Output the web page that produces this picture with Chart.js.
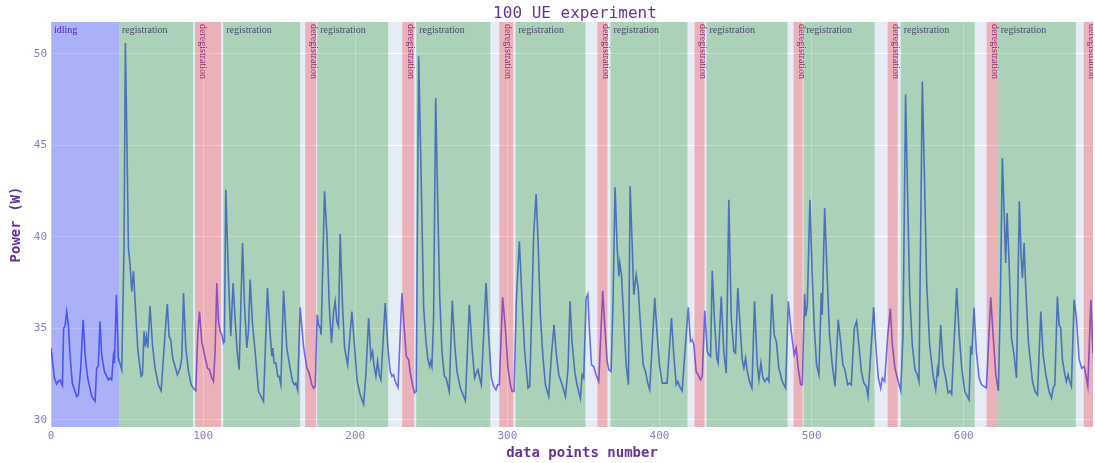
<!DOCTYPE html>
<html>
<head>
<meta charset="utf-8">
<title>100 UE experiment</title>
<script src="https://cdn.jsdelivr.net/npm/chart.js@4/dist/chart.umd.min.js"></script>
<style>
  html, body { margin: 0; padding: 0; background: #fff; }
  #wrap { width: 1095px; height: 463px; }
</style>
</head>
<body>
<div id="wrap"><canvas id="power" width="1095" height="463"></canvas></div>
<script>
// sample index of each turning point of the power trace
const samples = [
  0, 2.2, 3.7, 4.8, 5.9, 7.5, 8.3, 9.2, 10.3, 11.4, 12.5, 14.0, 16.9, 18.0, 19.5, 21.1, 22.4, 24.1, 26.8, 29.0,
  30.0, 31.1, 32.2, 33.3, 35.1, 37.7, 38.8, 39.9, 41.0, 41.7, 43.0, 44.3, 46.5, 48.0, 48.9, 50.0, 50.9, 52.0, 53.1, 54.2,
  55.3, 57.0, 59.2, 60.1, 61.2, 61.8, 62.7, 63.6, 65.1, 66.7, 68.4, 70.6, 72.4, 73.9, 75.4, 76.5, 77.6, 78.7, 80.0, 83.1,
  84.9, 86.0, 87.1, 88.6, 90.4, 92.1, 94.3, 95.2, 96.5, 97.6, 99.1, 100.9, 102.9, 104.2, 105.7, 106.8, 107.9, 109.0, 110.1, 111.2,
  112.3, 113.4, 114.0, 114.9, 116.2, 117.1, 118.2, 119.7, 121.1, 122.4, 123.7, 125.9, 127.2, 128.7, 129.8, 130.9, 132.5, 134.2, 136.4, 139.7,
  142.3, 144.1, 145.2, 145.8, 146.7, 147.8, 149.1, 150.0, 151.1, 152.9, 155.0, 156.8, 158.8, 160.1, 161.0, 162.1, 163.8, 166.0, 168.2, 169.7,
  171.5, 172.6, 173.7, 175.0, 175.9, 177.0, 177.6, 179.8, 181.4, 182.9, 184.4, 185.8, 186.8, 187.9, 189.0, 190.1, 191.7, 193.0, 195.0, 197.8,
  199.6, 201.3, 203.3, 205.5, 207.0, 208.8, 210.3, 211.4, 212.3, 213.6, 214.7, 215.8, 216.9, 219.7, 221.5, 223.0, 224.1, 225.2, 226.3, 228.1,
  230.7, 232.2, 233.6, 235.1, 236.2, 237.7, 239.0, 240.1, 241.7, 243.2, 245.0, 246.5, 247.8, 248.9, 249.6, 250.4, 251.5, 252.9, 254.2, 255.5,
  257.0, 258.6, 259.7, 260.8, 261.8, 263.8, 265.4, 266.9, 269.1, 272.4, 275.0, 276.8, 278.5, 279.6, 280.7, 281.8, 282.9, 286.0, 287.7, 289.5,
  291.0, 292.5, 293.6, 294.7, 296.9, 298.7, 300.4, 302.0, 303.1, 304.4, 305.9, 307.9, 309.7, 311.4, 313.6, 314.7, 316.2, 317.3, 318.9, 320.2,
  321.7, 323.3, 325.0, 327.2, 329.0, 330.7, 332.0, 333.8, 336.0, 338.2, 339.9, 341.2, 342.5, 344.3, 345.8, 348.0, 349.1, 350.2, 351.8, 352.9,
  354.0, 355.3, 356.8, 358.3, 360.1, 362.7, 364.0, 365.6, 366.7, 368.2, 369.5, 370.8, 372.2, 373.3, 373.9, 375.0, 376.5, 378.1, 379.6, 380.7,
  382.0, 383.1, 384.7, 386.0, 387.5, 389.3, 390.8, 392.3, 393.6, 396.9, 398.5, 400.0, 401.8, 404.0, 405.0, 407.9, 409.4, 411.0, 412.1, 413.2,
  414.9, 418.9, 420.4, 421.5, 422.6, 424.1, 425.4, 427.0, 428.1, 429.8, 431.4, 432.5, 433.6, 434.7, 436.2, 437.7, 438.6, 440.6, 442.3, 443.9,
  445.6, 447.2, 448.9, 450.0, 451.5, 453.1, 454.4, 455.5, 456.6, 457.7, 459.2, 460.8, 462.5, 464.3, 465.4, 466.7, 468.0, 469.3, 470.8, 471.9,
  473.9, 475.4, 476.8, 478.5, 480.7, 482.9, 484.7, 486.6, 488.6, 489.9, 491.2, 492.8, 493.9, 495.4, 496.1, 497.2, 498.9, 500.4, 501.8, 503.3,
  504.8, 506.4, 507.0, 508.6, 510.3, 511.8, 513.6, 515.4, 517.5, 519.1, 520.6, 521.9, 523.7, 525.0, 526.1, 528.1, 529.6, 531.1, 532.7, 534.4,
  536.0, 537.1, 540.8, 542.3, 543.9, 545.4, 546.5, 548.0, 550.2, 551.8, 553.1, 554.8, 556.4, 558.6, 560.1, 561.8, 563.2, 564.5, 566.2, 568.0,
  569.5, 570.6, 571.7, 572.8, 574.3, 575.7, 577.6, 579.8, 581.6, 582.7, 583.3, 584.9, 586.4, 588.2, 589.7, 591.0, 592.1, 593.9, 595.4, 596.9,
  598.7, 600.7, 603.5, 604.6, 605.3, 606.8, 608.3, 610.1, 611.8, 613.4, 614.9, 617.8, 619.3, 621.1, 622.8, 624.1, 625.4, 626.5, 627.6, 628.5,
  629.8, 631.4, 633.1, 634.7, 635.5, 636.6, 637.7, 638.6, 639.7, 640.8, 642.5, 645.2, 646.9, 648.5, 650.7, 652.2, 654.0, 656.1, 657.7, 658.8,
  659.9, 661.6, 662.7, 663.8, 664.9, 666.5, 667.5, 668.6, 669.7, 670.8, 672.6, 674.1, 675.9, 677.6, 679.2, 680.3, 681.6, 683.6, 685.0
];

// power draw in watts at those samples
const power = [
  33.92, 32.28, 31.95, 32.09, 32.18, 31.87, 35.01, 35.10, 35.92, 35.19, 33.55, 32.00, 31.27, 31.36, 32.82, 35.47, 33.55, 32.28, 31.27, 31.00,
  32.82, 32.91, 35.38, 33.55, 32.64, 32.18, 32.28, 32.18, 33.46, 33.10, 36.83, 33.37, 32.73, 39.39, 50.60, 44.68, 39.39, 38.48, 37.02, 38.11,
  36.47, 33.92, 32.37, 32.46, 34.83, 34.01, 34.56, 33.92, 36.20, 34.10, 32.82, 31.91, 31.58, 33.37, 35.19, 36.32, 34.56, 34.37, 33.37, 32.46,
  32.82, 33.41, 36.93, 33.92, 32.64, 31.91, 31.64, 31.58, 34.65, 35.92, 34.28, 33.55, 32.82, 32.73, 32.28, 32.09, 33.73, 37.47, 35.38, 34.83,
  34.65, 34.19, 34.28, 42.58, 39.02, 36.83, 34.56, 37.47, 35.38, 33.73, 32.73, 39.66, 36.29, 33.92, 34.83, 37.66, 35.19, 33.73, 31.55, 31.00,
  37.20, 34.65, 33.46, 33.92, 33.10, 33.10, 32.37, 32.37, 31.91, 37.05, 33.92, 33.00, 32.09, 31.91, 32.00, 31.64, 36.14, 34.01, 32.82, 32.55,
  31.91, 31.73, 31.82, 35.74, 35.19, 35.01, 34.65, 42.49, 40.12, 36.29, 34.19, 35.92, 36.47, 35.38, 35.10, 40.15, 36.11, 33.92, 33.00, 35.92,
  33.92, 32.09, 31.36, 30.85, 32.46, 35.56, 33.37, 33.73, 33.00, 32.37, 33.19, 32.46, 32.18, 36.38, 33.92, 32.64, 32.37, 32.46, 32.09, 31.77,
  36.93, 35.01, 33.46, 33.28, 32.55, 31.91, 31.46, 31.55, 49.87, 43.76, 36.11, 34.28, 33.28, 32.91, 33.19, 32.91, 35.56, 47.59, 41.94, 36.83,
  33.73, 32.37, 32.28, 31.91, 31.55, 36.51, 34.10, 32.64, 31.73, 31.04, 36.29, 33.92, 32.28, 32.55, 32.73, 32.28, 31.91, 37.47, 34.65, 32.28,
  31.82, 31.64, 31.91, 31.91, 36.69, 35.01, 32.82, 31.91, 31.55, 31.55, 36.47, 39.75, 36.47, 33.73, 31.73, 31.82, 36.47, 40.12, 42.34, 39.75,
  35.74, 33.55, 31.91, 31.27, 33.55, 35.19, 33.73, 32.46, 31.91, 31.27, 32.82, 36.47, 34.28, 32.64, 31.91, 31.18, 32.46, 32.28, 36.65, 36.87,
  34.83, 33.00, 32.91, 32.46, 32.09, 37.05, 35.19, 33.19, 32.73, 32.64, 36.47, 42.71, 39.39, 37.84, 38.57, 37.93, 35.56, 33.00, 31.91, 42.76,
  39.75, 36.83, 37.93, 37.20, 35.19, 33.00, 32.64, 32.00, 31.64, 36.65, 34.65, 33.00, 32.00, 32.00, 32.00, 35.56, 33.55, 31.91, 32.09, 31.82,
  31.58, 36.14, 34.28, 34.37, 34.10, 32.64, 32.46, 32.18, 32.37, 35.96, 33.73, 33.55, 33.46, 38.15, 35.38, 33.37, 33.10, 36.74, 33.73, 32.55,
  42.03, 35.56, 33.73, 33.64, 37.20, 35.01, 33.28, 32.82, 33.37, 32.64, 32.09, 31.73, 36.47, 33.00, 32.18, 33.10, 32.28, 32.09, 32.28, 32.09,
  36.87, 34.65, 34.28, 32.82, 32.09, 31.73, 36.47, 34.83, 33.55, 33.92, 32.82, 31.91, 31.91, 36.87, 35.65, 36.29, 42.03, 37.93, 35.01, 33.00,
  32.46, 36.93, 35.74, 41.58, 37.75, 34.65, 33.00, 31.82, 35.47, 34.28, 33.00, 32.73, 31.91, 32.00, 31.91, 35.01, 35.38, 34.10, 32.64, 32.00,
  31.82, 31.27, 36.14, 33.92, 32.28, 31.73, 32.28, 32.09, 34.74, 36.07, 34.10, 32.82, 32.28, 31.58, 34.65, 47.78, 41.94, 36.83, 34.10, 32.73,
  32.46, 32.09, 40.12, 48.50, 42.85, 37.38, 34.10, 32.46, 31.64, 32.73, 32.37, 35.19, 33.00, 32.28, 31.46, 31.58, 31.40, 34.65, 37.20, 34.83,
  32.82, 31.55, 31.09, 34.01, 33.55, 36.14, 33.73, 32.28, 31.91, 31.82, 31.73, 36.69, 34.65, 32.46, 31.58, 36.47, 44.31, 41.58, 38.57, 41.30,
  38.66, 34.46, 33.55, 32.28, 36.47, 41.94, 39.02, 37.75, 39.66, 37.20, 34.28, 32.09, 31.55, 31.36, 35.92, 33.55, 32.46, 31.55, 31.18, 31.73,
  31.91, 36.74, 35.19, 35.01, 33.28, 32.46, 32.09, 32.46, 32.09, 31.82, 36.56, 35.56, 33.28, 32.82, 32.91, 32.46, 31.82, 36.56, 33.60
];

// experiment phases, as [first sample, last sample]
const idleSpans = [[0, 44.7]];
const regSpans = [
  [44.7, 93.4], [113.2, 163.8], [175.0, 221.7], [240.1, 288.8], [305.3, 351.3],
  [367.8, 418.4], [430.9, 484.2], [494.7, 541.4], [558.6, 607.2], [622.4, 673.7]
];
const deregSpans = [
  [94.7, 111.8], [167.1, 174.3], [230.9, 238.8], [294.7, 303.9], [359.2, 365.8],
  [423.0, 429.6], [488.2, 494.1], [550.0, 556.6], [615.1, 622.4], [678.9, 685.5]
];

const xTicks = [0, 100, 200, 300, 400, 500, 600];
const yTicks = [30, 35, 40, 45, 50];

const TEXT = "#663399";
const TICK = "#8e78bf";
const MONO = "'DejaVu Sans Mono', monospace";
const SERIF = "'Liberation Serif', serif";

const phases = {
  id: "phases",
  beforeDraw(chart) {
    const { ctx, chartArea: a } = chart;
    ctx.save();
    ctx.fillStyle = "#e5ecf6";
    ctx.fillRect(a.left, a.top, a.right - a.left, a.bottom - a.top);
    ctx.restore();
  },
  afterDatasetsDraw(chart) {
    const { ctx, chartArea: a, scales: { x } } = chart;
    ctx.save();
    ctx.beginPath();
    ctx.rect(a.left, a.top, a.right - a.left, a.bottom - a.top);
    ctx.clip();

    // phase names sit under the tinted bands
    ctx.fillStyle = TEXT;
    ctx.font = "10px " + SERIF;
    ctx.textBaseline = "top";
    ctx.textAlign = "left";
    idleSpans.forEach(s => ctx.fillText("idling", x.getPixelForValue(s[0]) + 3, a.top + 3));
    regSpans.forEach(s => ctx.fillText("registration", x.getPixelForValue(s[0]) + 3, a.top + 3));
    deregSpans.forEach(s => {
      ctx.save();
      ctx.translate(x.getPixelForValue(s[0]) + 3, a.top + 2);
      ctx.rotate(Math.PI / 2);
      ctx.textBaseline = "bottom";
      ctx.fillText("deregistration", 0, 0);
      ctx.restore();
    });

    const band = (spans, color) => {
      ctx.fillStyle = color;
      spans.forEach(s => {
        const x0 = x.getPixelForValue(s[0]);
        const x1 = x.getPixelForValue(s[1]);
        ctx.fillRect(x0, a.top, x1 - x0, a.bottom - a.top);
      });
    };
    band(idleSpans, "rgba(0, 0, 255, 0.25)");
    band(regSpans, "rgba(0, 128, 0, 0.25)");
    band(deregSpans, "rgba(255, 0, 0, 0.25)");
    ctx.restore();
  },
  afterDraw(chart) {
    const { ctx, chartArea: a } = chart;
    ctx.save();
    ctx.fillStyle = TEXT;
    ctx.textAlign = "center";
    ctx.textBaseline = "middle";
    ctx.font = "16px " + MONO;
    ctx.fillText("100 UE experiment", 575, 14);
    ctx.font = "bold 14px " + MONO;
    ctx.fillText("data points number", 582, 453);
    ctx.translate(16, (a.top + a.bottom) / 2);
    ctx.rotate(-Math.PI / 2);
    ctx.fillText("Power (W)", 0, 0);
    ctx.restore();
  }
};

new Chart(document.getElementById("power"), {
  type: "line",
  data: {
    datasets: [{
      data: samples.map((s, i) => ({ x: s, y: power[i] })),
      borderColor: "#636efa",
      borderWidth: 1.6,
      pointRadius: 0,
      tension: 0,
      fill: false
    }]
  },
  options: {
    responsive: false,
    animation: false,
    devicePixelRatio: 1,
    layout: { padding: { top: 22, right: 2, bottom: 0, left: 0 } },
    plugins: { legend: { display: false }, tooltip: { enabled: false } },
    scales: {
      x: {
        type: "linear",
        min: 0,
        max: 685,
        afterFit(scale) { scale.height = 36; },
        afterBuildTicks(scale) { scale.ticks = xTicks.map(v => ({ value: v })); },
        ticks: { color: TICK, font: { family: MONO, size: 11 }, padding: 3, maxRotation: 0 },
        grid: { color: "#ffffff", lineWidth: 1, drawTicks: false },
        border: { display: false }
      },
      y: {
        min: 29.6,
        max: 51.75,
        afterFit(scale) { scale.width = 51; },
        afterBuildTicks(scale) { scale.ticks = yTicks.map(v => ({ value: v })); },
        ticks: { color: TICK, font: { family: MONO, size: 11 }, padding: 4 },
        grid: { color: "#ffffff", lineWidth: 1, drawTicks: false },
        border: { display: false }
      }
    }
  },
  plugins: [phases]
});
</script>
</body>
</html>
